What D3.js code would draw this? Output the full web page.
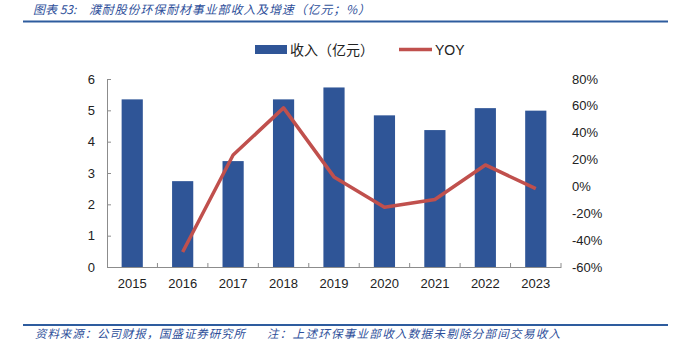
<!DOCTYPE html>
<html><head><meta charset="utf-8">
<script src="https://cdn.jsdelivr.net/npm/d3@7"></script>
<style>body{margin:0;background:#fff}svg{display:block}</style>
</head><body><svg id="c" width="680" height="347"></svg>
<script>
const years = ["2015","2016","2017","2018","2019","2020","2021","2022","2023"];
const revenue = [5.35, 2.74, 3.38, 5.35, 5.73, 4.84, 4.37, 5.07, 4.99];
const yoy = [null, -48.8, 23.4, 58.5, 7.1, -15.5, -9.7, 16.0, -1.6];
const leftTicks = [0,1,2,3,4,5,6];
const rightTicks = [-60,-40,-20,0,20,40,60,80];
const titleLabel = "图表 53:";
const titleText = "濮耐股份环保耐材事业部收入及增速（亿元；%）";
const sourceText = "资料来源：公司财报，国盛证券研究所";
const noteText = "注：上述环保事业部收入数据未剔除分部间交易收入";
const legendLabels = ["收入（亿元）","YOY"];

const svg = d3.select("#c");
const m = {l:107, r:561, t:79, b:267};
const x = d3.scaleBand().domain(years).range([m.l, m.r]).paddingInner(0.58).paddingOuter(0.29);
const xb = d3.scaleBand().domain(years).range([m.l, m.r]);
const yL = d3.scaleLinear().domain([0,6]).range([m.b, m.t]);
const yR = d3.scaleLinear().domain([-60,80]).range([m.b, m.t]);
const font = "'Liberation Sans', Arial, sans-serif";
const cjk = "'Noto Sans CJK SC', sans-serif";
const blue = "#2F5597", red = "#C0504D", axisC = "#8C8C8C", textBlue = "#2E4F9A";

// title
svg.append("text").attr("x",33).attr("y",14).attr("font-family",cjk)
  .attr("font-size",12).attr("font-style","italic").attr("fill",textBlue).text(titleLabel);
svg.append("text").attr("x",89).attr("y",14).attr("font-family",cjk)
  .attr("font-size",12).attr("font-style","italic").attr("fill",textBlue)
  .attr("textLength",281).attr("lengthAdjust","spacing").text(titleText);
svg.append("line").attr("x1",23).attr("x2",668).attr("y1",21.5).attr("y2",21.5).attr("stroke","#2E5C9E").attr("stroke-width",2);
// source
svg.append("line").attr("x1",23).attr("x2",668).attr("y1",325).attr("y2",325).attr("stroke","#2E5C9E").attr("stroke-width",2);
svg.append("text").attr("x",35).attr("y",338).attr("font-family",cjk)
  .attr("font-size",11.5).attr("font-style","italic").attr("fill",textBlue)
  .attr("textLength",210).attr("lengthAdjust","spacing").text(sourceText);
svg.append("text").attr("x",267).attr("y",338).attr("font-family",cjk)
  .attr("font-size",11.5).attr("font-style","italic").attr("fill",textBlue)
  .attr("textLength",293).attr("lengthAdjust","spacing").text(noteText);

// bars
svg.append("g").selectAll("rect").data(years).join("rect")
  .attr("x", d=>x(d)).attr("width", x.bandwidth())
  .attr("y", (d,i)=>yL(revenue[i])).attr("height",(d,i)=>yL(0)-yL(revenue[i]))
  .attr("fill", blue);

// line
const lineData = years.map((d,i)=>({d, v:yoy[i]})).filter(p=>p.v!==null);
svg.append("path").datum(lineData)
  .attr("d", d3.line().x(p=>xb(p.d)+xb.bandwidth()/2).y(p=>yR(p.v)))
  .attr("fill","none").attr("stroke",red).attr("stroke-width",3.5).attr("stroke-linejoin","round");

// left axis
const gl = svg.append("g").attr("transform",`translate(${m.l},0)`)
  .call(d3.axisLeft(yL).tickValues(leftTicks).tickFormat(d3.format("d")).tickSizeInner(-4).tickSizeOuter(-4).tickPadding(12));
gl.selectAll("path,line").attr("stroke",axisC);
gl.selectAll("text").attr("font-family",font).attr("font-size",13).attr("fill","#222");

// bottom axis
const gb = svg.append("g").attr("transform",`translate(0,${m.b})`)
  .call(d3.axisBottom(xb).tickSize(0).tickPadding(12));
gb.select("path").attr("stroke",axisC);
gb.selectAll("text").attr("font-family",font).attr("font-size",13).attr("fill","#222");
svg.append("g").selectAll("line").data(years).join("line")
  .attr("x1",d=>xb(d)+xb.bandwidth()).attr("x2",d=>xb(d)+xb.bandwidth())
  .attr("y1",m.b).attr("y2",m.b-4).attr("stroke",axisC);

// right labels
svg.append("g").selectAll("text").data(rightTicks).join("text")
  .attr("x",572).attr("y",d=>yR(d)).attr("dy","0.35em")
  .attr("font-family",font).attr("font-size",13).attr("fill","#222")
  .text(d=>d+"%");

// legend
svg.append("rect").attr("x",255).attr("y",45).attr("width",32).attr("height",9).attr("fill",blue);
svg.append("text").attr("x",290).attr("y",54.5).attr("font-family",cjk)
  .attr("font-size",14).attr("fill","#222").text(legendLabels[0]);
svg.append("line").attr("x1",399).attr("x2",432).attr("y1",49.5).attr("y2",49.5).attr("stroke",red).attr("stroke-width",3.5);
svg.append("text").attr("x",435).attr("y",55).attr("font-family",font)
  .attr("font-size",14).attr("fill","#222").text(legendLabels[1]);
</script></body></html>
